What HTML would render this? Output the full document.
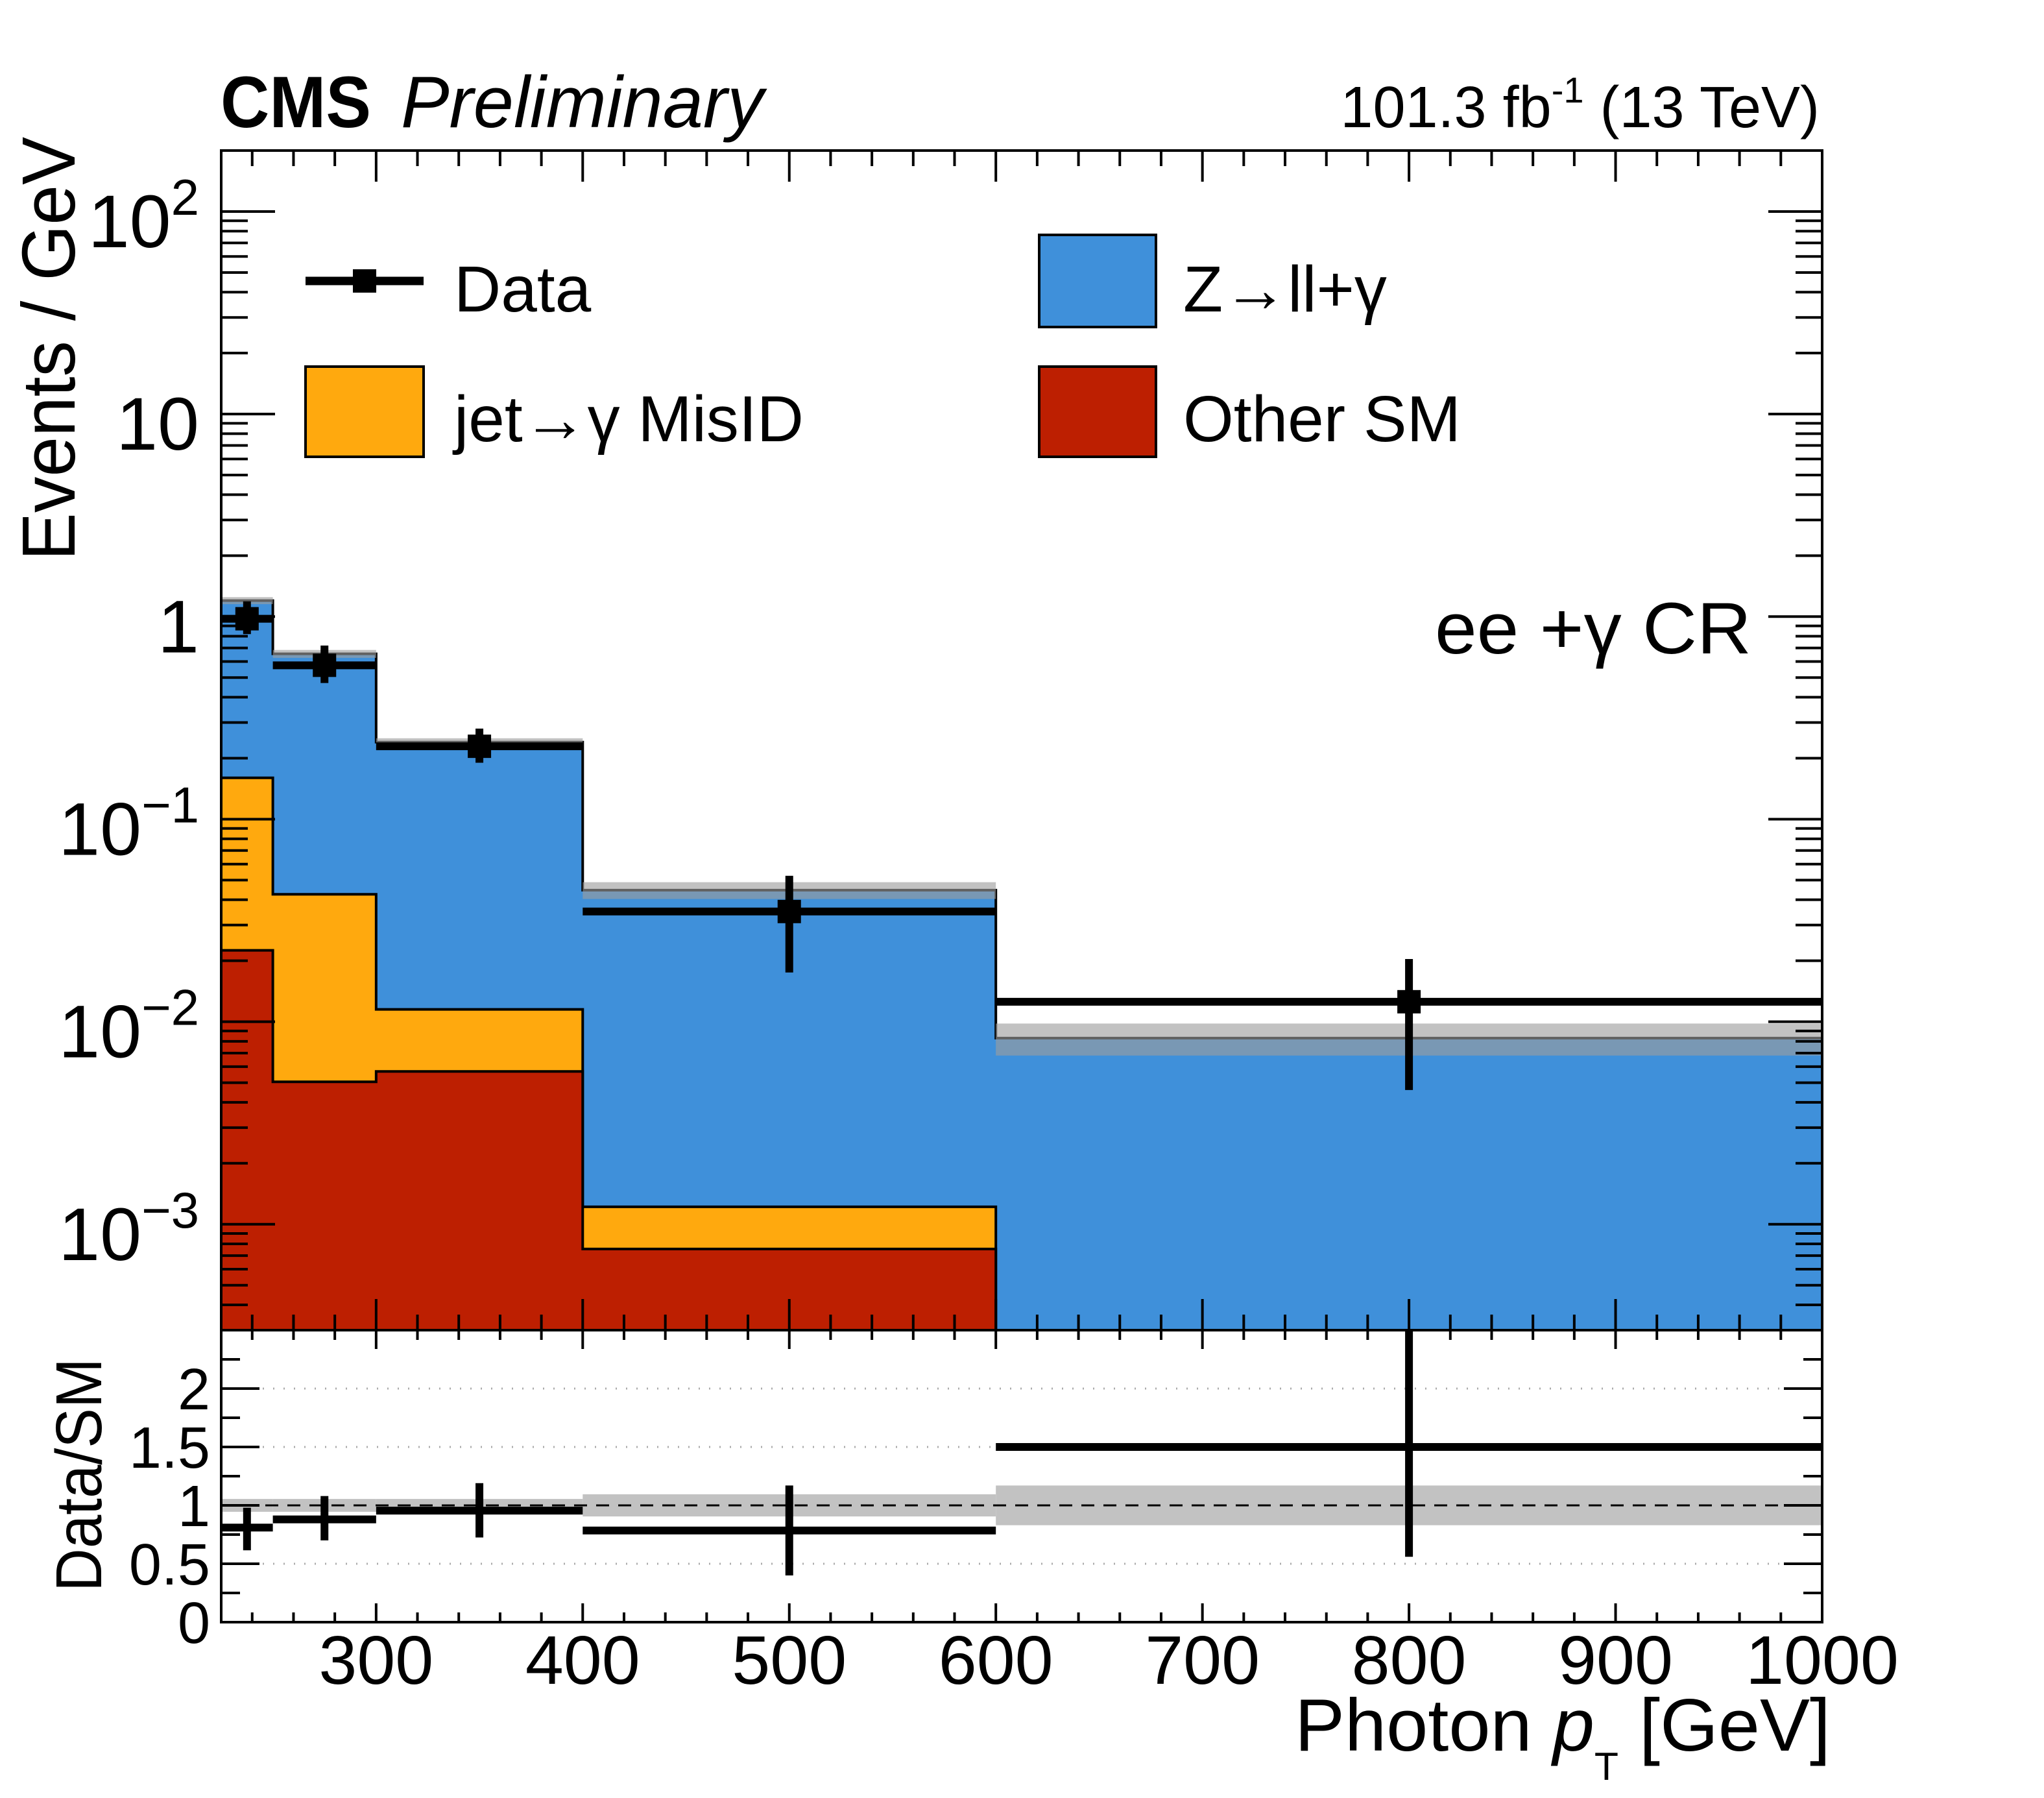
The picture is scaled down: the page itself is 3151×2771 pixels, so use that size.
<!DOCTYPE html>
<html><head><meta charset="utf-8"><style>
html,body{margin:0;padding:0;background:#fff;}
svg{display:block;font-family:"Liberation Sans",sans-serif;}
</style></head><body>
<svg id="c" width="3151" height="2771" viewBox="0 0 3151 2771" xmlns="http://www.w3.org/2000/svg">
<rect x="0" y="0" width="3151" height="2771" fill="#fff"/>
<g id="main"></g>
<g id="ratio"></g>
<g id="axes"></g>
<g id="texts">
  <text x="340" y="196" font-size="112" font-weight="bold" textLength="232" lengthAdjust="spacingAndGlyphs">CMS</text>
  <text x="618" y="196" font-size="112" font-style="italic" textLength="559" lengthAdjust="spacingAndGlyphs">Preliminary</text>
  <text x="2805" y="196" font-size="90" text-anchor="end">101.3 fb<tspan font-size="56" dy="-38">-1</tspan><tspan dy="38"> (13 TeV)</tspan></text>
  <text x="2212" y="1007" font-size="112" textLength="488" lengthAdjust="spacingAndGlyphs">ee +γ CR</text>
  <text transform="translate(115,211) rotate(-90)" font-size="116" text-anchor="end" textLength="653" lengthAdjust="spacingAndGlyphs">Events / GeV</text>
  <text transform="translate(156,2093) rotate(-90)" font-size="100" text-anchor="end" textLength="360" lengthAdjust="spacingAndGlyphs">Data/SM</text>
  <text x="1996" y="2698" font-size="114" textLength="826" lengthAdjust="spacingAndGlyphs">Photon <tspan font-style="italic">p</tspan><tspan font-size="60" dy="45">T</tspan><tspan dy="-45"> [GeV]</tspan></text>
</g>
<g id="legend">
  <g>
    <line x1="471" y1="433" x2="653" y2="433" stroke="#000" stroke-width="13"/>
    <rect x="544" y="415" width="36" height="36" fill="#000"/>
    <text x="700" y="480" font-size="100">Data</text>
  </g>
  <g>
    <rect x="1602" y="362" width="180" height="142" fill="#3f90da" stroke="#000" stroke-width="4"/>
    <text x="1824" y="480" font-size="100">Z→ll+γ</text>
  </g>
  <g>
    <rect x="471" y="565" width="182" height="139" fill="#ffa90e" stroke="#000" stroke-width="4"/>
    <text x="700" y="680" font-size="100">jet→γ MisID</text>
  </g>
  <g>
    <rect x="1602" y="565" width="180" height="139" fill="#bd1f01" stroke="#000" stroke-width="4"/>
    <text x="1824" y="680" font-size="100">Other SM</text>
  </g>
</g>
</svg>
<script>
// ---- data ----
const binEdges = [225, 250, 300, 400, 600, 1000];
const otherSM = [0.0225, 0.00505, 0.00568, 0.000755, 0];
const jetMisID = [0.1375, 0.0375, 0.00582, 0.000465, 0];
const zllg = [1.04, 0.6125, 0.2285, 0.04338, 0.0083];
const bandRel = [0.04, 0.045, 0.045, 0.095, 0.18];
const dataVals = [0.976, 0.575, 0.229, 0.035, 0.01255];
const dataUp = [1.19, 0.72, 0.28, 0.0525, 0.0204];
const dataDn = [0.82, 0.47, 0.19, 0.0175, 0.0046];
const ratioVals = [0.81, 0.88, 0.955, 0.785, 1.5];
const ratioUp = [0.98, 1.08, 1.19, 1.17, 2.6];
const ratioDn = [0.615, 0.70, 0.725, 0.40, 0.56];
const ratioBandRel = [0.055, 0.055, 0.055, 0.095, 0.17];
const xTickLabels = ["300","400","500","600","700","800","900","1000"];
const ratioTickLabels = ["0","0.5","1","1.5","2"];
const yDecades = [-3,-2,-1,0,1,2];

// ---- geometry ----
const L=341, R=2809, T=232, MB=2050, RB=2500;
const XMIN=225, XMAX=1000, YMIN=3e-4, YMAX=200, RMAX=2.5;
const NS="http://www.w3.org/2000/svg";
function X(v){return L+(v-XMIN)*(R-L)/(XMAX-XMIN);}
function Y(v){return T+(Math.log10(YMAX)-Math.log10(Math.max(v,1e-9)))*(MB-T)/(Math.log10(YMAX)-Math.log10(YMIN));}
function YR(r){return RB-Math.min(r,RMAX+0.1)*(RB-MB)/RMAX;}
function mk(tag,attrs,parent){const e=document.createElementNS(NS,tag);for(const k in attrs)e.setAttribute(k,attrs[k]);parent.appendChild(e);return e;}
const main=document.getElementById('main'), ratio=document.getElementById('ratio'), axes=document.getElementById('axes');

const defs=mk('defs',{},document.getElementById('c'));
const cp=mk('clipPath',{id:'mclip'},defs); mk('rect',{x:L,y:T,width:R-L,height:MB-T},cp);
const cp2=mk('clipPath',{id:'rclip'},defs); mk('rect',{x:L,y:MB,width:R-L,height:RB-MB},cp2);
main.setAttribute('clip-path','url(#mclip)');
ratio.setAttribute('clip-path','url(#rclip)');

const n=dataVals.length;
const cum1=otherSM.slice(), cum2=[], cum3=[];
for(let i=0;i<n;i++){cum2.push(cum1[i]+jetMisID[i]);cum3.push(cum2[i]+zllg[i]);}
function stepPath(vals){
  let d='M'+X(binEdges[0])+','+MB;
  for(let i=0;i<n;i++){const y=vals[i]>0?Y(vals[i]):MB+10;d+=' L'+X(binEdges[i])+','+y+' L'+X(binEdges[i+1])+','+y;}
  d+=' L'+X(binEdges[n])+','+MB+' Z';return d;
}
const layers=[[cum3,'#3f90da','stack-zllg'],[cum2,'#ffa90e','stack-jet-misid'],[cum1,'#bd1f01','stack-other-sm']];
layers.forEach(([vals,col,name])=>{
  const p=mk('path',{d:stepPath(vals),fill:col,stroke:'#000','stroke-width':4,'stroke-linejoin':'miter'},main);
  
  
});
for(let i=0;i<n;i++){
  const r=mk('rect',{x:X(binEdges[i]),y:Y(cum3[i]*(1+bandRel[i])),width:X(binEdges[i+1])-X(binEdges[i]),height:Y(cum3[i]*(1-bandRel[i]))-Y(cum3[i]*(1+bandRel[i])),fill:'rgb(156,156,156)','fill-opacity':0.62},main);
  
  
}
for(let i=0;i<n;i++){
  const cx=X((binEdges[i]+binEdges[i+1])/2), cy=Y(dataVals[i]);
  const g=mk('g',{},main);
  
  
  mk('line',{x1:X(binEdges[i]),y1:cy,x2:X(binEdges[i+1]),y2:cy,stroke:'#000','stroke-width':12},g);
  mk('line',{x1:cx,y1:Y(dataUp[i]),x2:cx,y2:Y(dataDn[i]),stroke:'#000','stroke-width':12},g);
  mk('rect',{x:cx-18,y:cy-18,width:36,height:36,fill:'#000'},g);
}

for(let i=0;i<n;i++){
  const r=mk('rect',{x:X(binEdges[i]),y:YR(1+ratioBandRel[i]),width:X(binEdges[i+1])-X(binEdges[i]),height:YR(1-ratioBandRel[i])-YR(1+ratioBandRel[i]),fill:'#c2c2c2'},ratio);
  
  
}
[0.5,1.5,2].forEach(v=>{
  const l=mk('line',{x1:L,y1:YR(v),x2:R,y2:YR(v),stroke:'#aaa','stroke-width':3,'stroke-dasharray':'2 14'},ratio);
  
  
});
const ul=mk('line',{x1:L,y1:YR(1),x2:R,y2:YR(1),stroke:'#000','stroke-width':3,'stroke-dasharray':'20 14'},ratio);


for(let i=0;i<n;i++){
  const cx=X((binEdges[i]+binEdges[i+1])/2), cy=YR(ratioVals[i]);
  const g=mk('g',{},ratio);
  
  
  mk('line',{x1:X(binEdges[i]),y1:cy,x2:X(binEdges[i+1]),y2:cy,stroke:'#000','stroke-width':12},g);
  mk('line',{x1:cx,y1:YR(ratioUp[i]),x2:cx,y2:YR(ratioDn[i]),stroke:'#000','stroke-width':12},g);
}

const f1=mk('rect',{x:L,y:T,width:R-L,height:MB-T,fill:'none',stroke:'#000','stroke-width':4},axes);


const f2=mk('rect',{x:L,y:MB,width:R-L,height:RB-MB,fill:'none',stroke:'#000','stroke-width':4},axes);


function tk(x1,y1,x2,y2){const l=mk('line',{x1,y1,x2,y2,stroke:'#000','stroke-width':4},axes);return l;}
for(let v=240; v<=1000; v+=20){
  const x=X(v), major=(v%100===0);
  const a=major?48:24, b=major?29:15;
  tk(x,MB,x,MB-a); tk(x,T,x,T+a);
  tk(x,MB,x,MB+b); tk(x,RB,x,RB-b);
}
xTickLabels.forEach(s=>{
  const t=mk('text',{x:X(parseFloat(s)),y:2595,'font-size':106,'text-anchor':'middle'},axes);
  t.textContent=s;
  
  
});
for(let d=-4; d<=2; d++){
  for(let m=1;m<=9;m++){
    const v=m*Math.pow(10,d); if(v<YMIN||v>YMAX) continue;
    const y=Y(v), len=(m===1)?83:41;
    tk(L,y,L+len,y); tk(R,y,R-len,y);
  }
}
yDecades.forEach(d=>{
  const y=Y(Math.pow(10,d));
  const t=mk('text',{x:307,y:y+55,'font-size':115,'text-anchor':'end'},axes);
  
  
  if(d===0){t.textContent='1';}
  else if(d===1){t.textContent='10';}
  else{
    t.appendChild(document.createTextNode('10'));
    const s=document.createElementNS(NS,'tspan');
    s.setAttribute('font-size','78'); s.setAttribute('dy','-50');
    s.textContent=(d<0?'−':'')+Math.abs(d);
    t.appendChild(s);
  }
});
for(let k=0;k<=10;k++){
  const v=k*0.25; if(v>RMAX) continue;
  const y=YR(v), len=(k%2===0)?59:29;
  tk(L,y,L+len,y); tk(R,y,R-len,y);
}
ratioTickLabels.forEach(s=>{
  const t=mk('text',{x:324,y:YR(parseFloat(s))+32,'font-size':90,'text-anchor':'end'},axes);
  t.textContent=s;
  
  
});
</script>
</body></html>
